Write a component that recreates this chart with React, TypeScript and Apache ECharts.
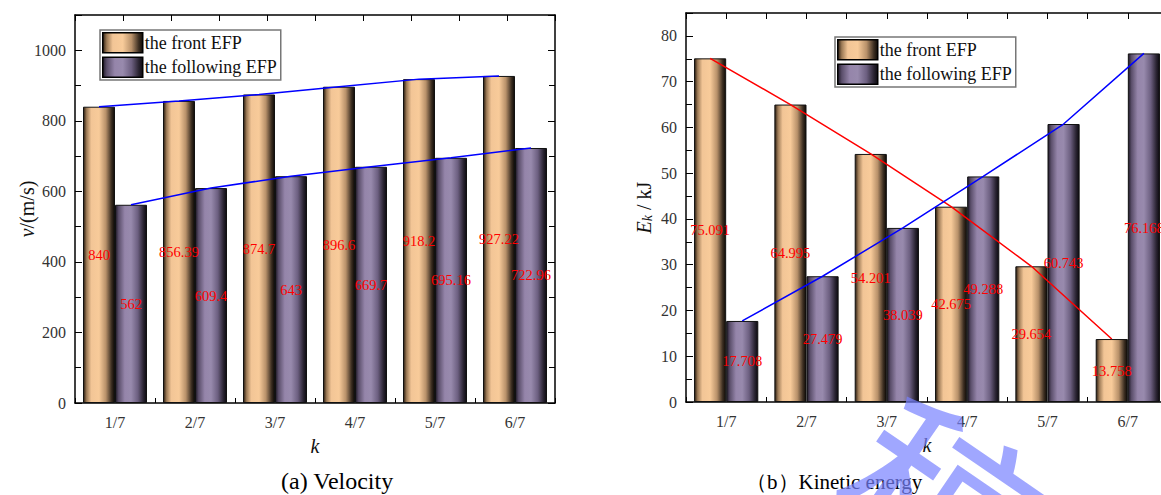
import React, { useEffect, useRef } from "react";
import * as echarts from "echarts";

const categories = ["1/7", "2/7", "3/7", "4/7", "5/7", "6/7"];
const velocityFront = [840, 856.39, 874.7, 896.6, 918.2, 927.22];
const velocityFollowing = [562, 609.4, 643, 669.7, 695.16, 722.96];
const energyFront = [75.091, 64.995, 54.201, 42.675, 29.654, 13.758];
const energyFollowing = [17.708, 27.479, 38.039, 49.288, 60.743, 76.168];
const seriesNames = ["the front EFP", "the following EFP"];

const SERIF = "'Liberation Serif', 'Times New Roman', serif";

const frontGrad = () =>
  new echarts.graphic.LinearGradient(0, 0, 1, 0, [
    { offset: 0, color: "#2a1c10" },
    { offset: 0.1, color: "#9c7a56" },
    { offset: 0.25, color: "#f2c596" },
    { offset: 0.5, color: "#f8cb9a" },
    { offset: 0.72, color: "#b8916a" },
    { offset: 0.9, color: "#3d2f22" },
    { offset: 1, color: "#0e0a06" },
  ]);
const followGrad = () =>
  new echarts.graphic.LinearGradient(0, 0, 1, 0, [
    { offset: 0, color: "#1e1826" },
    { offset: 0.1, color: "#5a4e6a" },
    { offset: 0.3, color: "#9585aa" },
    { offset: 0.5, color: "#988aad" },
    { offset: 0.72, color: "#6c5f80" },
    { offset: 0.9, color: "#2a2432" },
    { offset: 1, color: "#0c0a10" },
  ]);

const axisLine = { show: true, onZero: false, lineStyle: { color: "#000", width: 1.5 } };

function barSeries(name: string, data: number[], grad: any, gi: number) {
  return {
    type: "bar",
    name,
    xAxisIndex: gi * 2,
    yAxisIndex: gi * 2,
    data,
    barGap: "0%",
    barCategoryGap: "20%",
    itemStyle: { color: grad, borderColor: "#111", borderWidth: 1 },
    label: {
      show: true,
      position: "inside",
      color: "#ff0000",
      fontSize: 14.5,
      fontFamily: SERIF,
    },
  };
}

function lineSeries(data: number[], offset: number, color: string, gi: number) {
  return {
    type: "line",
    xAxisIndex: gi * 2 + 1,
    yAxisIndex: gi * 2,
    data: data.map((v, i) => [i + offset, v]),
    symbol: "none",
    lineStyle: { color, width: 1.5 },
    z: 5,
  };
}

function xAxes(gi: number, topInterval: number) {
  return [
    {
      type: "category",
      gridIndex: gi,
      data: categories,
      position: "bottom",
      axisLine,
      axisTick: { show: true, inside: true, length: 5, lineStyle: { color: "#000", width: 1 } },
      axisLabel: { fontSize: 16, color: "#333", fontFamily: SERIF, margin: 11 },
      name: "k",
      nameLocation: "middle",
      nameGap: 33,
      nameMoveOverlap: false,
      nameTextStyle: { fontSize: 20, fontStyle: "italic", color: "#111", fontFamily: SERIF },
      splitLine: { show: false },
    },
    {
      type: "value",
      gridIndex: gi,
      position: "top",
      min: 0,
      max: 6,
      interval: topInterval,
      axisLine,
      axisTick: { show: true, inside: true, length: 6, lineStyle: { color: "#000", width: 1 } },
      axisLabel: { show: false },
      splitLine: { show: false },
    },
  ];
}

function yAxes(gi: number, max: number, interval: number, name: string, nameGap: number, rich: any) {
  return [
    {
      type: "value",
      gridIndex: gi,
      position: "left",
      min: 0,
      max,
      interval,
      axisLine,
      axisTick: { show: true, inside: true, length: 7, lineStyle: { color: "#000", width: 1 } },
      minorTick: { show: true, splitNumber: 2, length: 6, lineStyle: { color: "#000", width: 1 } },
      axisLabel: {
        fontSize: 16,
        color: "#333",
        fontFamily: SERIF,
        margin: 9,
        showMaxLabel: false,
        formatter: (v: number) => String(v),
      },
      splitLine: { show: false },
      name,
      nameLocation: "middle",
      nameGap,
      nameMoveOverlap: false,
      nameTextStyle: { fontSize: 20, color: "#111", fontFamily: SERIF, rich },
    },
    {
      type: "value",
      gridIndex: gi,
      position: "right",
      min: 0,
      max,
      interval,
      axisLine,
      axisTick: { show: true, inside: true, length: 7, lineStyle: { color: "#000", width: 1 } },
      minorTick: { show: true, splitNumber: 2, length: 6, lineStyle: { color: "#000", width: 1 } },
      axisLabel: { show: false },
      splitLine: { show: false },
    },
  ];
}

function legend(left: number, top: number) {
  return {
    data: seriesNames,
    orient: "vertical",
    left,
    top,
    itemWidth: 40,
    itemHeight: 20,
    itemGap: 3,
    padding: [2, 4, 2, 2],
    borderColor: "#777",
    borderWidth: 1.5,
    icon: "rect",
    selectedMode: false,
    itemStyle: { borderColor: "#000", borderWidth: 1.5 },
    textStyle: { fontSize: 18, color: "#111", fontFamily: SERIF, padding: [0, 0, 0, -3] },
  };
}

const option: any = {
  animation: false,
  backgroundColor: "#fff",
  grid: [
    { left: 75, top: 15, width: 480, height: 388 },
    { left: 686, top: 13, width: 482, height: 389 },
  ],
  xAxis: [...xAxes(0, 0.6), ...xAxes(1, 0.5)],
  yAxis: [
    ...yAxes(0, 1100, 200, "{i|v}{n|/(m/s)}", 38, {
      i: { fontSize: 20, fontStyle: "italic", fontFamily: SERIF, color: "#111" },
      n: { fontSize: 20, fontFamily: SERIF, color: "#111" },
    }),
    ...yAxes(1, 85, 10, "{i|E}{s|k}{n| / kJ}", 32, {
      i: { fontSize: 20, fontStyle: "italic", fontFamily: SERIF, color: "#111" },
      s: { fontSize: 14, fontStyle: "italic", fontFamily: SERIF, color: "#111", verticalAlign: "bottom", lineHeight: 14, padding: [8, 0, 0, 0] },
      n: { fontSize: 20, fontFamily: SERIF, color: "#111" },
    }),
  ],
  legend: [legend(100, 30), legend(835, 37)],
  series: [
    barSeries(seriesNames[0], velocityFront, frontGrad(), 0),
    barSeries(seriesNames[1], velocityFollowing, followGrad(), 0),
    lineSeries(velocityFront, 0.3, "#0000ff", 0),
    lineSeries(velocityFollowing, 0.7, "#0000ff", 0),
    barSeries(seriesNames[0], energyFront, frontGrad(), 1),
    barSeries(seriesNames[1], energyFollowing, followGrad(), 1),
    lineSeries(energyFront, 0.3, "#ff0000", 1),
    lineSeries(energyFollowing, 0.7, "#0000ff", 1),
  ],
  graphic: [
    {
      type: "text",
      left: 281,
      top: 469,
      style: { text: "(a) Velocity", fontSize: 24, fontFamily: SERIF, fill: "#000" },
    },
    {
      type: "text",
      left: 746,
      top: 471,
      style: { text: "（b）Kinetic energy", fontSize: 21, fontFamily: SERIF, fill: "#000" },
    },
    {
      type: "text",
      x: 945,
      y: 500,
      rotation: -0.6,
      z: 100,
      style: {
        text: "稿",
        fontSize: 200,
        fontFamily: "'Noto Sans CJK SC'",
        fill: "rgba(120,130,255,0.7)",
        align: "center",
        verticalAlign: "middle",
      },
    },
  ],
};

export default function App() {
  const ref = useRef<HTMLDivElement>(null);
  useEffect(() => {
    const chart = echarts.init(ref.current!, null, { renderer: "svg" });
    chart.setOption(option);
    return () => chart.dispose();
  }, []);
  return (
    <div
      style={{
        position: "fixed",
        left: 0,
        top: 0,
        width: 1161,
        height: 495,
        overflow: "hidden",
        background: "#fff",
      }}
    >
      <div ref={ref} style={{ width: 1180, height: 495 }} />
    </div>
  );
}
